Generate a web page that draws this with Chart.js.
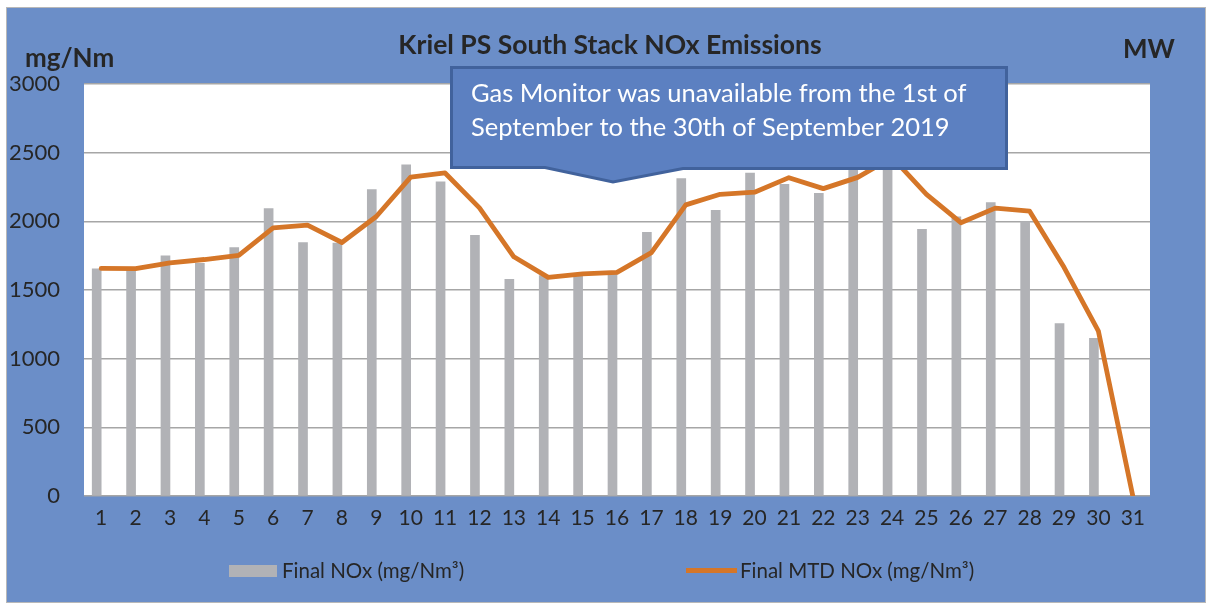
<!DOCTYPE html>
<html><head><meta charset="utf-8">
<script src="https://cdn.jsdelivr.net/npm/chart.js@4.4.1/dist/chart.umd.min.js"></script>
<style>html,body{margin:0;padding:0;background:#fff;}#wrap{width:1212px;height:606px;position:relative;}</style>
</head><body><div id="wrap"><canvas id="c" width="1212" height="606"></canvas></div>
<script>
const days = ['1','2','3','4','5','6','7','8','9','10','11','12','13','14','15','16','17','18','19','20','21','22','23','24','25','26','27','28','29','30','31'];
const finalNOx = [1655,1645,1748,1695,1808,2092,1846,1842,2232,2412,2287,1898,1578,1605,1608,1622,1920,2312,2080,2352,2270,2203,2400,2480,1942,2032,2136,1998,1255,1148,0];
const finalMTD = [1657,1655,1698,1722,1752,1952,1972,1846,2035,2322,2352,2098,1742,1592,1617,1628,1772,2120,2197,2212,2318,2238,2320,2465,2197,1990,2096,2074,1665,1200,0];
// MW series: unavailable for the month (no values shown in the reference)
const mwSeries = [];
const yTickValues = [0,500,1000,1500,2000,2500,3000];
const chartTitle = 'Kriel PS South Stack NOx Emissions';
const leftAxisTitle = 'mg/Nm';
const rightAxisTitle = 'MW';
const calloutLines = ['Gas Monitor was unavailable from the 1st of','September to the 30th of September 2019'];
const legendLabels = ['Final NOx (mg/Nm³)','Final MTD NOx (mg/Nm³)'];

const BG = '#6b8ec8', BAR = '#b1b2b6', LINE = '#d57628', TXT = '#262626';
const FONT = 'Lato, "Open Sans", sans-serif';

const bgPlugin = {
  id: 'bg',
  beforeDraw(chart) {
    const ctx = chart.ctx, a = chart.chartArea;
    ctx.save();
    ctx.fillStyle = '#ffffff';
    ctx.fillRect(0, 0, chart.width, chart.height);
    ctx.fillStyle = BG;
    ctx.fillRect(6, 7, 1200, 596);
    ctx.strokeStyle = '#b8b8b8';
    ctx.lineWidth = 1;
    ctx.strokeRect(6.5, 7.5, 1199, 595);
    ctx.fillStyle = '#ffffff';
    ctx.fillRect(a.left, a.top, a.right - a.left, a.bottom - a.top);
    ctx.restore();
  }
};

const overlayPlugin = {
  id: 'overlay',
  afterDraw(chart) {
    const ctx = chart.ctx;
    ctx.save();
    // titles
    ctx.fillStyle = TXT;
    ctx.textBaseline = 'alphabetic';
    ctx.font = 'bold 26.5px ' + FONT;
    ctx.textAlign = 'center';
    ctx.fillText(chartTitle, 610, 54);
    ctx.textAlign = 'left';
    ctx.font = 'bold 26px ' + FONT;
    ctx.fillText(leftAxisTitle, 25, 67);
    ctx.fillText(rightAxisTitle, 1123, 58);
    // legend
    ctx.fillStyle = BAR;
    ctx.fillRect(229, 565, 48, 12);
    ctx.strokeStyle = LINE;
    ctx.lineWidth = 5;
    ctx.beginPath(); ctx.moveTo(686, 570.5); ctx.lineTo(737, 570.5); ctx.stroke();
    ctx.fillStyle = TXT;
    ctx.font = '20.5px ' + FONT;
    ctx.textBaseline = 'middle';
    ctx.fillText(legendLabels[0], 282, 571);
    ctx.fillText(legendLabels[1], 740, 571);
    // callout
    ctx.beginPath();
    ctx.moveTo(451.5, 67.5);
    ctx.lineTo(1006.5, 67.5);
    ctx.lineTo(1006.5, 168.5);
    ctx.lineTo(683, 168.5);
    ctx.lineTo(613, 182);
    ctx.lineTo(545, 167.5);
    ctx.lineTo(451.5, 167.5);
    ctx.closePath();
    ctx.fillStyle = '#5c80c1';
    ctx.fill();
    ctx.strokeStyle = '#41629c';
    ctx.lineWidth = 3;
    ctx.lineJoin = 'miter';
    ctx.stroke();
    ctx.fillStyle = '#ffffff';
    ctx.font = '25.5px ' + FONT;
    ctx.textBaseline = 'alphabetic';
    ctx.fillText(calloutLines[0], 471, 102);
    ctx.fillText(calloutLines[1], 471, 136);
    ctx.restore();
  }
};

new Chart(document.getElementById('c'), {
  type: 'bar',
  data: {
    labels: days,
    datasets: [
      { type: 'line', label: legendLabels[1], data: finalMTD, borderColor: LINE, backgroundColor: LINE,
        borderWidth: 4.8, pointRadius: 0, tension: 0, order: 1, borderJoinStyle: 'round', borderCapStyle: 'round' },
      { type: 'bar', label: legendLabels[0], data: finalNOx, backgroundColor: BAR, borderWidth: 0,
        barThickness: 9, order: 2 },
      { type: 'bar', label: rightAxisTitle, data: mwSeries, backgroundColor: 'rgba(0,0,0,0)', borderWidth: 0,
        barThickness: 9, order: 3 }
    ]
  },
  options: {
    responsive: false,
    devicePixelRatio: 1,
    animation: false,
    layout: { padding: { top: 84, right: 62, bottom: 0, left: 0 } },
    plugins: { legend: { display: false }, tooltip: { enabled: false }, title: { display: false } },
    scales: {
      x: {
        grid: { display: false, drawTicks: false },
        border: { display: false },
        ticks: { font: { family: FONT, size: 21 }, color: TXT, padding: 10, maxRotation: 0, autoSkip: false },
        afterFit(s) { s.height = 110; }
      },
      y: {
        min: 0, max: 3000,
        afterBuildTicks(s) { s.ticks = yTickValues.map(v => ({ value: v })); },
        grid: { color: '#a6a6a6', lineWidth: 1.6, drawTicks: false },
        border: { display: false },
        ticks: { font: { family: FONT, size: 22 }, color: TXT, padding: 24, callback: (v) => String(v) },
        afterFit(s) { s.width = 84; }
      }
    }
  },
  plugins: [bgPlugin, overlayPlugin]
});
</script>
</body></html>
